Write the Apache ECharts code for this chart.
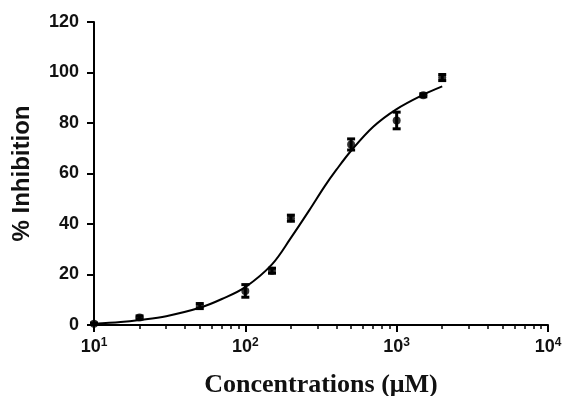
<!DOCTYPE html>
<html><head><meta charset="utf-8">
<script src="https://cdn.jsdelivr.net/npm/echarts@6/dist/echarts.min.js"></script>
<style>html,body{margin:0;padding:0;background:#fff}#c{width:566px;height:396px}</style>
</head><body><div id="c"></div>
<script>
// Measured data (concentration in µM, % inhibition)
const concentrations = [10, 20, 50, 100, 150, 200, 500, 1000, 1500, 2000];
const inhibitionMean = [0.5, 3, 7.5, 13.5, 21.5, 42.3, 71.5, 81, 91, 98];
const inhibitionErr  = [0.3, 0.6, 1, 2.5, 1, 1.2, 2.2, 3.3, 0.6, 1.2];
// Fitted curve
const curveX = [10, 15, 20, 30, 50, 70, 100, 150, 200, 265, 335, 400, 500, 700, 1000, 1500, 2000];
const curveY = [0.5, 1.2, 2.0, 3.5, 6.8, 10.3, 15, 24, 34.5, 45.5, 55, 61.5, 69, 78.5, 85.5, 91.2, 94.5];
const yTicks = [0, 20, 40, 60, 80, 100, 120];
const minorTickValues = [20,30,40,50,60,70,80,90,200,300,400,500,600,700,800,900,2000,3000,4000,5000,6000,7000,8000,9000];

const chart = echarts.init(document.getElementById('c'));
const pts = concentrations.map((c, i) => [c, inhibitionMean[i]]);
const errs = concentrations.map((c, i) => [c, inhibitionMean[i] - inhibitionErr[i], inhibitionMean[i] + inhibitionErr[i]]);
const curve = curveX.map((c, i) => [c, curveY[i]]);

chart.setOption({
  animation: false,
  grid: {left: 94, right: 18, top: 22, bottom: 71, containLabel: false, outerBoundsMode: 'none'},
  xAxis: [{
    type: 'log', logBase: 10, min: 10, max: 10000,
    name: 'Concentrations (μM)', nameLocation: 'middle', nameGap: 47,
    nameTextStyle: {fontFamily: 'Liberation Serif', fontWeight: 'bold', fontSize: 26, color: '#111'},
    axisLine: {lineStyle: {color: '#000', width: 2}},
    axisTick: {show: true, length: 7, lineStyle: {color: '#000', width: 2}},
    splitLine: {show: false},
    axisLabel: {
      margin: 12,
      formatter: v => '{b|10}{s|' + Math.round(Math.log10(v)) + '}',
      rich: {
        b: {fontFamily: 'Liberation Sans', fontWeight: 'bold', fontSize: 18, color: '#111', lineHeight: 20},
        s: {fontFamily: 'Liberation Sans', fontWeight: 'bold', fontSize: 12, color: '#111', verticalAlign: 'top', lineHeight: 20, padding: [0,0,6,0]}
      }
    }
  }, {
    type: 'log', logBase: 10, min: 10, max: 10000, position: 'bottom',
    axisLine: {show: false},
    axisLabel: {show: false},
    splitLine: {show: false},
    axisTick: {show: true, length: 4, customValues: minorTickValues, lineStyle: {color: '#000', width: 1.5}}
  }],
  yAxis: {
    type: 'value', min: 0, max: 120, interval: 20,
    name: '% Inhibition', nameLocation: 'middle', nameGap: 60,
    nameTextStyle: {fontFamily: 'Liberation Sans', fontWeight: 'bold', fontSize: 24, color: '#111'},
    axisLine: {show: true, lineStyle: {color: '#000', width: 2}},
    axisTick: {show: true, length: 7, lineStyle: {color: '#000', width: 2}},
    splitLine: {show: false},
    axisLabel: {margin: 15, fontFamily: 'Liberation Sans', fontWeight: 'bold', fontSize: 18, color: '#111',
      customValues: yTicks}
  },
  series: [{
    type: 'line', data: curve, smooth: 0.35, showSymbol: false,
    lineStyle: {color: '#000', width: 2}, z: 2
  }, {
    type: 'custom', data: errs, z: 3,
    renderItem: (params, api) => {
      const x = api.value(0);
      const lo = api.coord([x, api.value(1)]);
      const hi = api.coord([x, api.value(2)]);
      const cw = 4;
      const st = {stroke: '#000', lineWidth: 3};
      return {type: 'group', children: [
        {type: 'line', shape: {x1: lo[0], y1: lo[1], x2: hi[0], y2: hi[1]}, style: st},
        {type: 'line', shape: {x1: lo[0]-cw, y1: lo[1], x2: lo[0]+cw, y2: lo[1]}, style: st},
        {type: 'line', shape: {x1: hi[0]-cw, y1: hi[1], x2: hi[0]+cw, y2: hi[1]}, style: st}
      ]};
    }
  }, {
    type: 'scatter', data: pts, symbol: 'circle', symbolSize: 8,
    itemStyle: {color: '#000'}, z: 4
  }]
});
</script></body></html>
